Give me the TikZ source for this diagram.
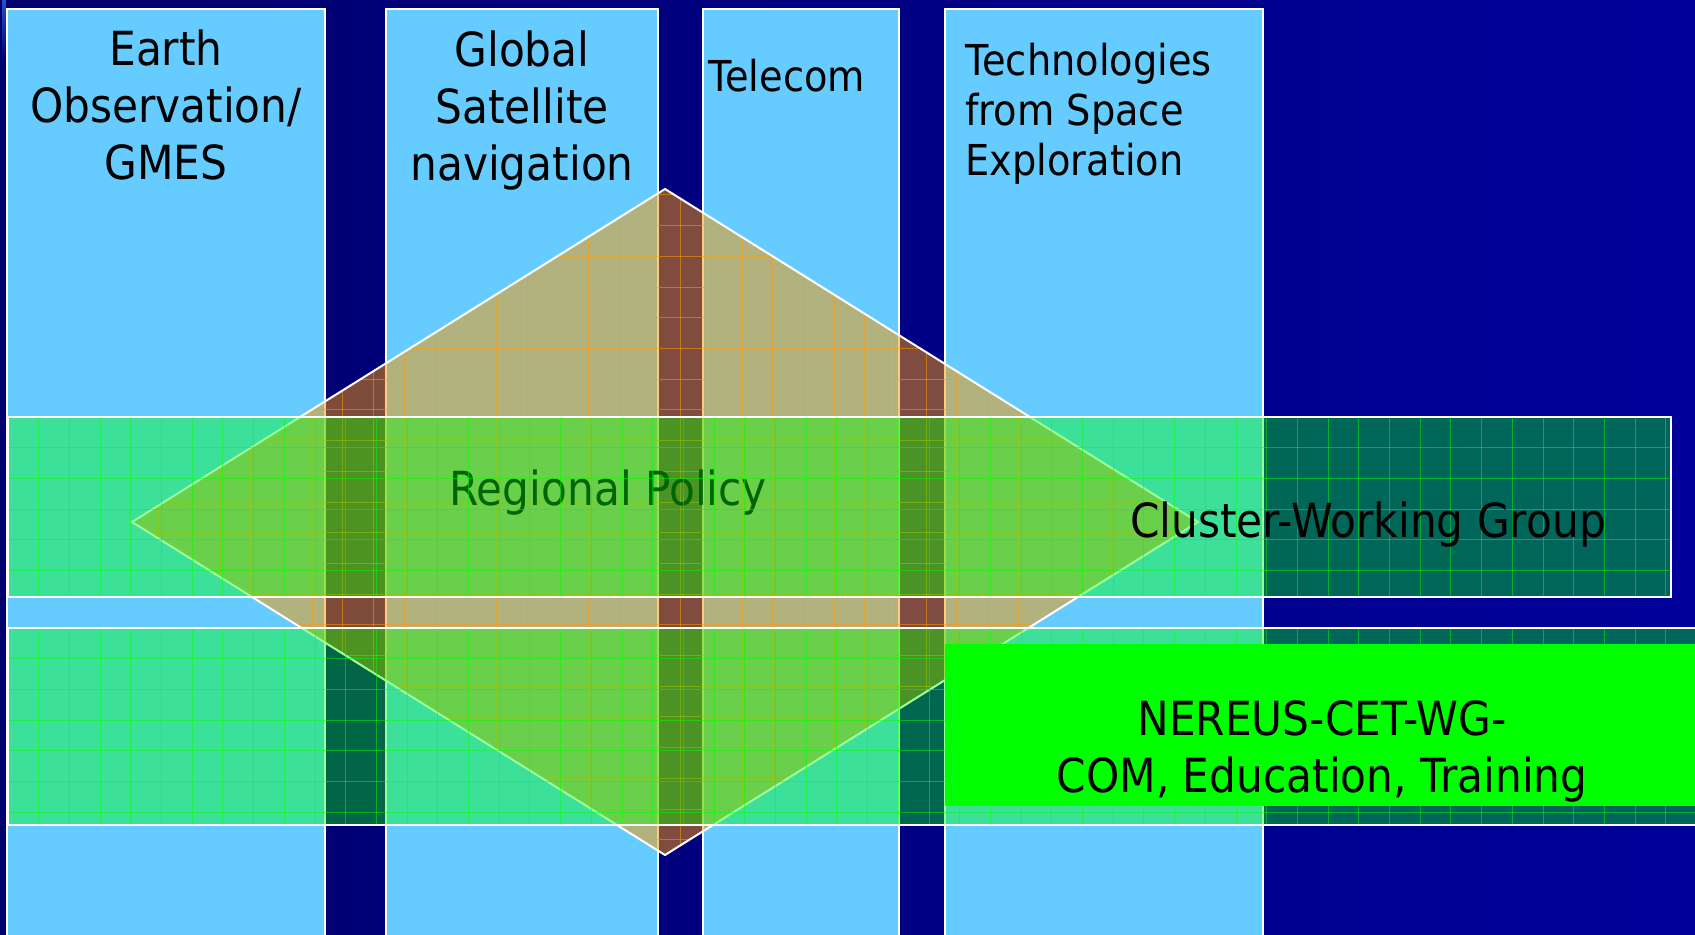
\documentclass[tikz,border=0pt]{standalone}
\usepackage{fontspec}
\setmainfont{DejaVu Sans}[FakeStretch=0.90]
\definecolor{navyL}{RGB}{0,0,108}
\definecolor{navyR}{RGB}{0,0,155}
\definecolor{stripC}{RGB}{40,80,200}
\definecolor{colblue}{RGB}{102,204,255}
\definecolor{orng}{RGB}{255,153,0}
\definecolor{grn}{RGB}{0,255,0}
\begin{document}
\begin{tikzpicture}[x=0.5pt,y=-0.5pt,
  colbox/.style={fill=colblue,draw=white,line width=0.8pt},
  diamfill/.style={fill=orng,fill opacity=0.5},
  diamedge/.style={draw=white,line width=1pt,line join=miter},
  bandfill/.style={fill=grn,fill opacity=0.4},
  bandedge/.style={draw=white,line width=1pt},
  dgrid/.style={draw=orng,line width=0.5pt,opacity=0.55},
  bgrid/.style={draw=grn,line width=0.5pt,opacity=0.5},
  bigtxt/.style={font=\fontsize{23.5}{28.5}\selectfont,inner sep=0pt,text=black},
  smalltxt/.style={font=\fontsize{21.3}{25}\selectfont,inner sep=0pt,text=black}]
\useasboundingbox (0,0) rectangle (1695,935);
\clip (0,0) rectangle (1695,935);
% background
\shade[left color=navyL,right color=navyR] (0,0) rectangle (1695,935);
\shade[top color=stripC,bottom color=navyL] (2,0) rectangle (6,60);
% columns
\path[colbox] (7,9) rectangle (325,960);
\path[colbox] (386,9) rectangle (658,960);
\path[colbox] (703,9) rectangle (899,960);
\path[colbox] (945,9) rectangle (1263,960);
\node[bigtxt,anchor=base] (eo) at (166,66) {\begin{tabular}[t]{@{}c@{}}Earth\\Observation/\\GMES\end{tabular}};
\node[bigtxt,anchor=base] (gs) at (522,66.5) {\begin{tabular}[t]{@{}c@{}}Global\\Satellite\\navigation\end{tabular}};
\node[smalltxt,anchor=base west] (tc) at (708,92) {Telecom};
\node[smalltxt,anchor=base west] (ts) at (965,76) {\begin{tabular}[t]{@{}l@{}}Technologies\\from Space\\Exploration\end{tabular}};
% diamond
\coordinate (dT) at (665,189);
\coordinate (dR) at (1198,522);
\coordinate (dB) at (665,855);
\coordinate (dL) at (132,522);
\path[diamfill] (dT)--(dR)--(dB)--(dL)--cycle;
\begin{scope}
\clip (dT)--(dR)--(dB)--(dL)--cycle;
\foreach \i in {0,...,35} \draw[dgrid] ({128+30.7*\i},180) -- ({128+30.7*\i},870);
\foreach \j in {0,...,22} \draw[dgrid] (120,{195+30.7*\j}) -- (1210,{195+30.7*\j});
\end{scope}
\path[diamedge] (dT)--(dR)--(dB)--(dL)--cycle;
\node[bigtxt,anchor=base] (rp) at (608,505) {Regional Policy};
% band 1
\path[bandfill] (8,417) rectangle (1671,597);
\begin{scope}
\clip (8,417) rectangle (1671,597);
\foreach \i in {1,...,54} \draw[bgrid] ({8+30.7*\i},417) -- ({8+30.7*\i},597);
\foreach \j in {1,...,5} \draw[bgrid] (8,{417+30.7*\j}) -- (1671,{417+30.7*\j});
\end{scope}
\path[bandedge] (8,417) rectangle (1671,597);
% band 2
\path[bandfill] (8,628) rectangle (1710,825);
\begin{scope}
\clip (8,628) rectangle (1710,825);
\foreach \i in {1,...,55} \draw[bgrid] ({8+30.7*\i},628) -- ({8+30.7*\i},825);
\foreach \j in {1,...,6} \draw[bgrid] (8,{628+30.7*\j}) -- (1710,{628+30.7*\j});
\end{scope}
\path[bandedge] (8,628) rectangle (1710,825);
% bright green box
\fill[grn] (945,644) rectangle (1700,806);
\node[bigtxt,anchor=base] (cw) at (1368,537) {Cluster-Working Group};
\node[bigtxt,anchor=base] (nr) at (1322,735) {\begin{tabular}[t]{@{}c@{}}NEREUS-CET-WG-\\COM, Education, Training\end{tabular}};
\end{tikzpicture}
\end{document}
